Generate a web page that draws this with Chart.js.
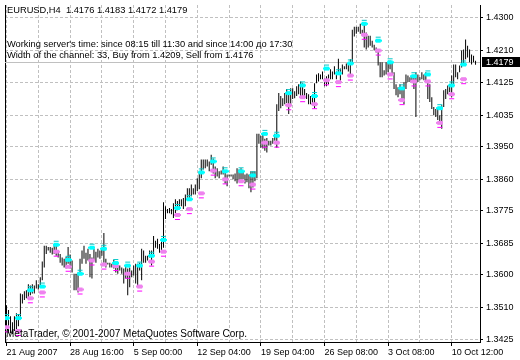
<!DOCTYPE html>
<html><head><meta charset="utf-8">
<script src="https://cdn.jsdelivr.net/npm/chart.js@4.4.1/dist/chart.umd.min.js"></script>
<style>html,body{margin:0;padding:0;background:#fff;}canvas{display:block;}</style>
</head><body>
<canvas id="c" width="520" height="360"></canvas>
<script>
// ---------- data ----------
const symbolTitle = 'EURUSD,H4';
const lastOHLC = [1.4176, 1.4183, 1.4172, 1.4179];
const infoLines = [
  "Working server's time: since 08:15 till 11:30 and since 14:00 до 17:30",
  "Width of the channel: 33, Buy from 1.4209, Sell from 1.4176"
];
const copyrightText = 'MetaTrader, \u00A9 2001-2007 MetaQuotes Software Corp.';

const xTickBars = [0, 32, 64, 96, 128, 160, 192, 224];
const xTickLabels = ['21 Aug 2007', '28 Aug 16:00', '5 Sep 00:00', '12 Sep 04:00',
                     '19 Sep 04:00', '26 Sep 08:00', '3 Oct 08:00', '10 Oct 12:00'];
const yTickValues = [1.3425, 1.3510, 1.3600, 1.3685, 1.3775, 1.3860, 1.3950, 1.4035, 1.4125, 1.4210, 1.4300];

const barHigh = [
  1.3517,1.3504,1.3487,1.3471,1.3487,1.3495,1.3493,1.3549,1.3547,1.3555,
  1.3558,1.3574,1.3571,1.3574,1.3571,1.3585,1.3574,1.3593,1.3636,1.3679,
  1.3679,1.3676,1.3676,1.3674,1.3684,1.3679,1.3666,1.3657,1.3647,1.3644,
  1.3649,1.3676,1.3655,1.3639,1.3603,1.3603,1.3606,1.3644,1.3666,1.3679,
  1.3660,1.3671,1.3657,1.3647,1.3671,1.3663,1.3671,1.3666,1.3671,1.3714,
  1.3644,1.3633,1.3633,1.3630,1.3641,1.3630,1.3625,1.3625,1.3620,
  1.3617,1.3625,1.3617,1.3620,1.3612,1.3625,1.3630,1.3630,1.3633,1.3671,1.3666,
  1.3652,1.3652,1.3666,1.3666,1.3706,1.3693,1.3698,1.3684,1.3698,1.3798,
  1.3787,1.3779,1.3782,1.3779,1.3795,1.3806,1.3801,1.3806,1.3806,1.3809,
  1.3819,1.3836,1.3836,1.3846,1.3836,1.3846,1.3863,1.3882,1.3914,1.3914,
  1.3914,1.3914,1.3909,1.3927,1.3917,1.3895,1.3890,1.3882,1.3884,1.3895,
  1.3882,1.3873,1.3873,1.3873,1.3873,1.3876,1.3890,1.3887,1.3890,1.3882,
  1.3873,1.3876,1.3873,1.3882,1.3882,1.3882,1.3984,1.3984,1.3979,1.3984,
  1.3971,1.3973,1.3965,1.3965,1.3973,1.3984,1.4065,1.4095,1.4087,1.4081,
  1.4095,1.4106,1.4095,1.4108,1.4108,1.4100,1.4114,1.4119,1.4127,1.4122,
  1.4106,1.4095,1.4092,1.4087,1.4092,1.4122,1.4146,1.4149,1.4146,1.4154,
  1.4135,1.4141,1.4146,1.4160,1.4154,1.4168,1.4154,1.4189,1.4162,1.4173,
  1.4168,1.4176,1.4176,1.4187,1.4268,1.4276,1.4276,1.4276,1.4284,1.4268,
  1.4281,1.4260,1.4251,1.4251,1.4238,1.4227,1.4219,1.4211,1.4179,1.4179,
  1.4157,1.4179,1.4179,1.4184,1.4179,1.4152,1.4119,1.4111,1.4119,1.4111,
  1.4125,1.4146,1.4143,1.4138,1.4143,1.4138,1.4152,1.4146,1.4138,1.4152,
  1.4146,1.4152,1.4130,1.4119,1.4084,1.4057,1.4052,1.4052,1.4035,1.4062,
  1.4103,1.4106,1.4116,1.4119,1.4143,1.4173,1.4173,1.4152,1.4170,1.4211,
  1.4214,1.4241,1.4224,1.4214,1.4200,1.4197,1.4183
];
const barLow = [
  1.3455,1.3441,1.3441,1.3439,1.3447,1.3441,1.3460,1.3482,1.3522,1.3531,
  1.3536,1.3539,1.3544,1.3549,1.3549,1.3563,1.3560,1.3566,1.3585,1.3620,
  1.3657,1.3666,1.3660,1.3655,1.3657,1.3652,1.3647,1.3633,1.3625,1.3620,
  1.3617,1.3630,1.3617,1.3606,1.3558,1.3558,1.3552,1.3603,1.3630,1.3644,
  1.3630,1.3639,1.3593,1.3590,1.3639,1.3633,1.3647,1.3644,1.3652,1.3633,
  1.3620,1.3628,1.3620,1.3620,1.3617,1.3606,1.3603,1.3612,1.3603,
  1.3576,1.3590,1.3544,1.3566,1.3593,1.3598,1.3576,1.3566,1.3612,1.3585,1.3633,
  1.3633,1.3639,1.3647,1.3625,1.3652,1.3674,1.3671,1.3660,1.3666,1.3674,
  1.3752,1.3768,1.3768,1.3765,1.3755,1.3768,1.3782,1.3782,1.3787,1.3779,
  1.3787,1.3801,1.3809,1.3814,1.3819,1.3819,1.3828,1.3833,1.3863,1.3887,
  1.3890,1.3895,1.3882,1.3900,1.3876,1.3863,1.3868,1.3863,1.3873,1.3873,
  1.3849,1.3841,1.3868,1.3868,1.3860,1.3855,1.3849,1.3855,1.3860,1.3860,
  1.3849,1.3852,1.3836,1.3825,1.3838,1.3855,1.3863,1.3957,1.3946,1.3944,
  1.3938,1.3933,1.3952,1.3952,1.3957,1.3965,1.3946,1.4046,1.4054,1.4060,
  1.4065,1.4068,1.4038,1.4060,1.4079,1.4081,1.4087,1.4092,1.4087,1.4081,
  1.4087,1.4079,1.4065,1.4065,1.4065,1.4054,1.4122,1.4127,1.4133,1.4133,
  1.4114,1.4114,1.4119,1.4133,1.4133,1.4146,1.4133,1.4146,1.4122,1.4146,
  1.4160,1.4160,1.4154,1.4146,1.4176,1.4249,1.4257,1.4262,1.4257,1.4254,
  1.4219,1.4214,1.4219,1.4224,1.4219,1.4211,1.4206,1.4170,1.4138,1.4138,
  1.4143,1.4146,1.4152,1.4160,1.4146,1.4106,1.4089,1.4084,1.4092,1.4076,
  1.4065,1.4106,1.4125,1.4125,1.4130,1.4106,1.4030,1.4125,1.4130,1.4133,
  1.4130,1.4125,1.4079,1.4071,1.4052,1.4035,1.4030,1.4022,1.4017,1.3998,
  1.4057,1.4079,1.4092,1.4098,1.4084,1.4119,1.4138,1.4133,1.4152,1.4165,
  1.4170,1.4187,1.4192,1.4179,1.4173,1.4179,1.4172
];

const markerBars = [0,6,12,18,25,31,37,43,49,55,61,67,73,79,86,92,98,104,110,118,
                    124,130,136,142,149,155,161,167,173,180,187,193,199,205,212,218,224,230];
const buyLevels = [1.3482,1.3482,1.3558,1.3568,1.3682,1.3641,1.3603,1.3674,1.3671,1.3632,
                   1.3625,1.3625,1.3652,1.3695,1.3782,1.3806,1.3879,1.3909,1.3882,1.3882,
                   1.3871,1.3984,1.3979,1.4095,1.4116,1.4087,1.4162,1.4149,1.4176,1.4284,
                   1.4238,1.4179,1.4108,1.4141,1.4146,1.4054,1.4116,1.4173];
const sellLevels = [1.3457,1.3447,1.3536,1.3552,1.3663,1.3622,1.3560,1.3639,1.3628,1.3624,
                    1.3603,1.3568,1.3636,1.3663,1.3763,1.3779,1.3822,1.3884,1.3860,1.3855,
                    1.3846,1.3960,1.3960,1.4062,1.4084,1.4065,1.4130,1.4125,1.4143,1.4254,
                    1.4211,1.4146,1.4076,1.4127,1.4127,1.4014,1.4092,1.4133];

// ---------- styling ----------
const FONT = '"Liberation Sans", Arial, sans-serif';

function makeMarker(fill, dashColor, dashBelow) {
  const c = document.createElement('canvas');
  c.width = 7; c.height = 12;
  const g = c.getContext('2d');
  g.fillStyle = fill;
  g.fillRect(1, 4, 5, 1);
  g.fillRect(0, 5, 7, 2);
  g.fillRect(1, 7, 5, 1);
  g.fillStyle = dashColor;
  if (dashBelow) g.fillRect(1, 10, 5, 1); else g.fillRect(1, 2, 5, 1);
  return c;
}
const buyMarker = makeMarker('#00FFFF', '#00C8C8', false);
const sellMarker = makeMarker('#EE82EE', '#FF00FF', true);

const overlay = {
  id: 'overlay',
  beforeDatasetsDraw(chart) {
    const {ctx, chartArea: a, scales: {y}} = chart;
    const py = Math.round(y.getPixelForValue(lastOHLC[3])) + 0.5;
    ctx.save();
    ctx.strokeStyle = '#C0C0C0';
    ctx.lineWidth = 1;
    ctx.beginPath();
    ctx.moveTo(a.left, py);
    ctx.lineTo(a.right, py);
    ctx.stroke();
    ctx.restore();
  },
  afterDraw(chart) {
    const {ctx, scales: {y}} = chart;
    ctx.save();
    ctx.fillStyle = '#000';
    ctx.textBaseline = 'alphabetic';
    ctx.textAlign = 'left';
    ctx.font = '9.3px ' + FONT;
    ctx.fillText(symbolTitle + '  ' + lastOHLC.map(v => v.toFixed(4)).join(' '), 7, 13);
    ctx.fillText(infoLines[0], 7, 47);
    ctx.fillText(infoLines[1], 7, 58);
    ctx.font = '10px ' + FONT;
    ctx.fillText(copyrightText, 6, 337);
    // current price label
    const py = Math.round(y.getPixelForValue(lastOHLC[3]));
    ctx.fillStyle = '#000';
    ctx.fillRect(482, py - 5, 38, 10);
    ctx.fillStyle = '#fff';
    ctx.font = '9px ' + FONT;
    ctx.textBaseline = 'middle';
    ctx.fillText(lastOHLC[3].toFixed(4), 486, py + 0.5);
    ctx.restore();
  }
};

new Chart(document.getElementById('c'), {
  type: 'bar',
  data: {
    datasets: [
      {
        type: 'scatter',
        data: markerBars.map((b, k) => ({x: b, y: buyLevels[k]})),
        pointStyle: buyMarker, pointRadius: 4, order: 0,
        xAxisID: 'x', yAxisID: 'y'
      },
      {
        type: 'scatter',
        data: markerBars.map((b, k) => ({x: b, y: sellLevels[k]})),
        pointStyle: sellMarker, pointRadius: 4, order: 1,
        xAxisID: 'x', yAxisID: 'y'
      },
      {
        type: 'bar',
        data: barHigh.map((h, i) => ({x: i, y: [barLow[i], h]})),
        backgroundColor: '#000', borderWidth: 0, barThickness: 1,
        inflateAmount: 0, order: 2, xAxisID: 'x', yAxisID: 'y'
      }
    ]
  },
  options: {
    responsive: false,
    animation: false,
    devicePixelRatio: 1,
    layout: {padding: {left: 2, top: 2, right: 0, bottom: 0}},
    plugins: {legend: {display: false}, tooltip: {enabled: false}},
    scales: {
      x: {
        type: 'linear', position: 'bottom', offset: false,
        min: -0.75, max: 238.25,
        grid: {
          offset: false, color: '#C0C0C0', lineWidth: 1,
          drawTicks: true, tickLength: 4, tickWidth: 1,
          tickColor: (c) => (c.tick && xTickBars.includes(c.tick.value)) ? '#000' : 'rgba(0,0,0,0)'
        },
        border: {display: true, color: '#000', width: 1, dash: [3, 2]},
        ticks: {
          autoSkip: false, maxRotation: 0, minRotation: 0, align: 'start', padding: 1,
          color: '#000', font: {family: FONT, size: 9},
          callback: (v) => { const k = xTickBars.indexOf(v); return k >= 0 ? xTickLabels[k] : ''; }
        },
        afterBuildTicks: (s) => {
          const t = [];
          for (let v = 0; v <= xTickBars[xTickBars.length - 1]; v += 16) t.push({value: v});
          s.ticks = t;
        },
        afterFit: (s) => { s.height = 18; s.paddingLeft = 0; s.paddingRight = 0; }
      },
      y: {
        type: 'linear', position: 'right',
        min: 1.341690, max: 1.433511, beginAtZero: false,
        grid: {
          color: '#C0C0C0', lineWidth: 1, drawTicks: true, tickLength: 3,
          tickColor: '#000', tickWidth: 1
        },
        border: {display: true, color: '#000', width: 1, dash: [3, 2]},
        ticks: {
          autoSkip: false, padding: 3, color: '#000', font: {family: FONT, size: 9},
          callback: (v) => Number(v).toFixed(4)
        },
        afterBuildTicks: (s) => { s.ticks = yTickValues.map(v => ({value: v})); },
        afterFit: (s) => { s.width = 40; s.paddingTop = 0; s.paddingBottom = 0; }
      },
      yl: {
        type: 'linear', position: 'left', display: true,
        grid: {display: false, drawTicks: false},
        border: {display: true, color: '#000', width: 1},
        ticks: {display: false},
        afterFit: (s) => { s.width = 0; s.paddingTop = 0; s.paddingBottom = 0; }
      }
    }
  },
  plugins: [overlay]
});
</script>
</body></html>
